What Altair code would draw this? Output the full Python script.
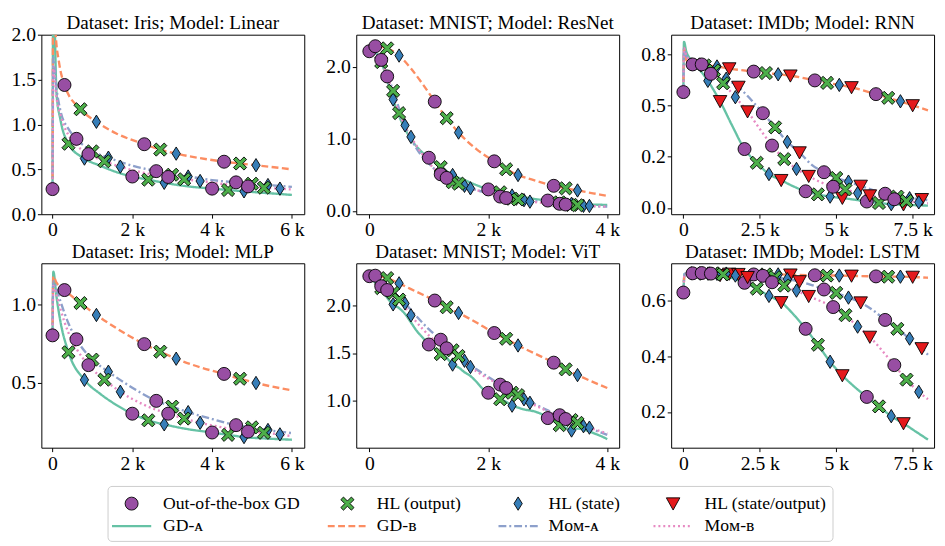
import altair as alt
import pandas as pd

FONT = "Liberation Serif"

# ---------------- series definitions ----------------
METHODS = ["GD-A", "GD-B", "Mom-A", "Mom-B"]
METHOD_LABELS = ["GD-ᴀ", "GD-ʙ", "Mᴏᴍ-ᴀ", "Mᴏᴍ-ʙ"]
LINE_COLORS = ["#66c2a5", "#fc8d62", "#8da0cb", "#e78ac3"]
DASHES = [[1, 0], [7, 3.5], [8, 3, 2, 3], [2, 3]]

MARKERS = ["Out-of-the-box GD", "HL (output)", "HL (state)", "HL (state/output)"]
MARKER_COLORS = ["#984ea3", "#4daf4a", "#377eb8", "#e41a1c"]
X_PATH = "M-1,-0.6L-0.6,-1L0,-0.4L0.6,-1L1,-0.6L0.4,0L1,0.6L0.6,1L0,0.4L-0.6,1L-1,0.6L-0.4,0Z"
DIAMOND_PATH = "M0,-1L0.62,0L0,1L-0.62,0Z"
TRI_PATH = "M-1,-0.85L1,-0.85L0,0.95Z"
SHAPES = ["circle", X_PATH, DIAMOND_PATH, TRI_PATH]
SIZES = [175, 190, 320, 200]

# ---------------- data: (step, loss) ----------------
# Dataset: Iris; Model: Linear
IRIS_LIN_GDA = [(0, 0.28), (20, 2.6), (100, 1.35), (200, 1.05), (400, 0.785), (800, 0.62), (1200, 0.54),
                (1600, 0.47), (2000, 0.42), (2400, 0.385), (2800, 0.35), (3400, 0.31), (4000, 0.285),
                (4400, 0.27), (4800, 0.255), (5400, 0.235), (6000, 0.215)]
IRIS_LIN_GDB = [(0, 0.28), (20, 2.6), (80, 2.0), (160, 1.70), (300, 1.44), (700, 1.17), (1100, 1.03),
                (1600, 0.90), (2300, 0.78), (2700, 0.72), (3100, 0.675), (3700, 0.625), (4300, 0.585),
                (4700, 0.565), (5100, 0.546), (6000, 0.50)]
IRIS_LIN_MOMA = [(0, 0.28), (20, 1.75), (100, 1.40), (200, 1.15), (400, 0.95), (600, 0.84), (1000, 0.70),
                 (1400, 0.63), (2000, 0.54), (2600, 0.48), (3000, 0.44), (3400, 0.42), (4000, 0.38),
                 (4600, 0.355), (5000, 0.34), (5400, 0.325), (6000, 0.305)]
IRIS_LIN_MOMB = [(0, 0.28), (20, 1.65), (100, 1.30), (200, 1.10), (400, 0.88), (600, 0.77), (900, 0.67),
                 (1300, 0.59), (1700, 0.53), (2300, 0.46), (2900, 0.415), (3300, 0.39), (3700, 0.37),
                 (4300, 0.335), (4900, 0.31), (5300, 0.295), (5700, 0.285), (6000, 0.275)]

# Dataset: MNIST; Model: ResNet
MNIST_RES_GDA = [(0, 2.22), (100, 2.20), (200, 2.07), (300, 1.82), (400, 1.55), (500, 1.32), (600, 1.14),
                 (700, 1.00), (800, 0.89), (1000, 0.74), (1200, 0.61), (1400, 0.50), (1600, 0.43),
                 (1800, 0.36), (2000, 0.30), (2200, 0.26), (2400, 0.215), (2600, 0.19), (2800, 0.165),
                 (3000, 0.145), (3200, 0.12), (3400, 0.10), (3700, 0.09), (4000, 0.085)]
MNIST_RES_GDB = [(0, 2.22), (100, 2.29), (300, 2.26), (500, 2.16), (700, 1.98), (900, 1.76), (1100, 1.52),
                 (1300, 1.29), (1500, 1.09), (1800, 0.86), (2100, 0.69), (2300, 0.58), (2500, 0.50),
                 (2800, 0.42), (3100, 0.35), (3300, 0.315), (3500, 0.285), (4000, 0.21)]
MNIST_RES_MOMA = [(0, 2.22), (100, 2.20), (200, 2.10), (400, 1.67), (600, 1.19), (800, 0.86), (1000, 0.66),
                  (1200, 0.51), (1400, 0.40), (1600, 0.35), (1800, 0.29), (2000, 0.25), (2200, 0.20),
                  (2400, 0.17), (2600, 0.15), (3000, 0.12), (3200, 0.10), (3400, 0.085), (3600, 0.072),
                  (4000, 0.06)]
MNIST_RES_MOMB = [(0, 2.22), (100, 2.20), (300, 1.87), (500, 1.36), (700, 1.03), (900, 0.78), (1100, 0.58),
                  (1300, 0.46), (1500, 0.38), (1700, 0.315), (2000, 0.25), (2300, 0.18), (2500, 0.16),
                  (2700, 0.13), (3000, 0.11), (3300, 0.09), (3500, 0.08), (3700, 0.07), (4000, 0.06)]

# Dataset: IMDb; Model: RNN
IMDB_RNN_GDA = [(0, 0.565), (20, 0.81), (100, 0.76), (400, 0.70), (800, 0.62), (1200, 0.52), (1600, 0.40),
                (2000, 0.287), (2400, 0.22), (2800, 0.165), (3200, 0.135), (3600, 0.105), (4000, 0.081),
                (4400, 0.066), (4800, 0.055), (5200, 0.048), (5600, 0.04), (6000, 0.031), (6400, 0.024),
                (6800, 0.018), (7200, 0.016), (7600, 0.013), (8000, 0.011)]
IMDB_RNN_GDB = [(0, 0.565), (20, 0.78), (100, 0.72), (300, 0.70), (700, 0.695), (1100, 0.69), (1500, 0.68),
                (2300, 0.665), (2700, 0.658), (3100, 0.652), (3500, 0.645), (4300, 0.622), (4700, 0.61),
                (5100, 0.60), (5500, 0.588), (6300, 0.555), (6700, 0.537), (7100, 0.52), (7500, 0.50),
                (8000, 0.476)]
IMDB_RNN_MOMA = [(0, 0.565), (20, 0.78), (100, 0.74), (600, 0.70), (1000, 0.67), (1400, 0.63), (1800, 0.59),
                 (2200, 0.53), (2600, 0.462), (3000, 0.393), (3400, 0.322), (3800, 0.27), (4200, 0.21),
                 (4600, 0.174), (5000, 0.146), (5400, 0.128), (5800, 0.107), (6200, 0.087), (6600, 0.069),
                 (7000, 0.055), (7400, 0.047), (7800, 0.042), (8000, 0.038)]
IMDB_RNN_MOMB = [(0, 0.565), (20, 0.78), (100, 0.74), (500, 0.69), (900, 0.654), (1300, 0.608), (1700, 0.54),
                 (2100, 0.47), (2500, 0.385), (2900, 0.304), (3300, 0.238), (3700, 0.19), (4100, 0.155),
                 (4500, 0.125), (4900, 0.103), (5300, 0.09), (5700, 0.072), (6100, 0.06), (6500, 0.05),
                 (6900, 0.042), (7300, 0.033), (7700, 0.027), (8000, 0.022)]

# Dataset: Iris; Model: MLP
IRIS_MLP_GDA = [(0, 0.804), (20, 1.21), (100, 1.05), (200, 0.89), (400, 0.696), (800, 0.52), (1200, 0.43),
                (1600, 0.36), (2000, 0.304), (2400, 0.262), (2800, 0.236), (3400, 0.205), (4000, 0.184),
                (4400, 0.169), (4800, 0.155), (5400, 0.145), (6000, 0.138)]
IRIS_MLP_GDB = [(0, 0.804), (20, 1.18), (100, 1.14), (300, 1.093), (700, 1.01), (1100, 0.934), (1600, 0.85),
                (2300, 0.748), (2700, 0.70), (3100, 0.655), (3700, 0.60), (4300, 0.558), (4700, 0.527),
                (5100, 0.50), (6000, 0.453)]
IRIS_MLP_MOMA = [(0, 0.804), (20, 1.15), (100, 1.10), (200, 1.02), (400, 0.88), (600, 0.779), (1000, 0.649),
                 (1400, 0.572), (2000, 0.47), (2600, 0.386), (3000, 0.349), (3400, 0.314), (4000, 0.27),
                 (4600, 0.231), (5000, 0.217), (5400, 0.20), (6000, 0.18)]
IRIS_MLP_MOMB = [(0, 0.804), (20, 1.12), (100, 1.06), (200, 0.97), (400, 0.82), (600, 0.72), (900, 0.614),
                 (1300, 0.521), (1700, 0.444), (2300, 0.36), (2900, 0.304), (3300, 0.273), (3700, 0.246),
                 (4300, 0.215), (4900, 0.19), (5300, 0.182), (5700, 0.172), (6000, 0.16)]

# Dataset: MNIST; Model: ViT
MNIST_VIT_GDA = [(0, 2.305), (100, 2.24), (200, 2.18), (300, 2.08), (400, 2.01), (500, 1.97), (600, 1.91),
                 (700, 1.82), (800, 1.73), (900, 1.66), (1000, 1.59), (1100, 1.545), (1200, 1.49),
                 (1300, 1.45), (1400, 1.38), (1500, 1.35), (1600, 1.30), (1700, 1.26), (1800, 1.20),
                 (1900, 1.13), (2000, 1.085), (2100, 1.06), (2200, 1.017), (2300, 0.99), (2400, 0.95),
                 (2500, 0.93), (2600, 0.91), (2700, 0.90), (2800, 0.885), (2900, 0.86), (3000, 0.82),
                 (3100, 0.79), (3200, 0.746), (3300, 0.72), (3400, 0.69), (3500, 0.71), (3600, 0.70),
                 (3700, 0.68), (3800, 0.655), (3900, 0.63), (4000, 0.60)]
MNIST_VIT_GDB = [(0, 2.305), (100, 2.31), (300, 2.285), (500, 2.23), (700, 2.17), (900, 2.11), (1100, 2.05),
                 (1300, 1.98), (1500, 1.92), (1800, 1.82), (2100, 1.71), (2300, 1.65), (2500, 1.58),
                 (2800, 1.49), (3100, 1.40), (3300, 1.33), (3500, 1.27), (4000, 1.135)]
MNIST_VIT_MOMA = [(0, 2.305), (100, 2.27), (200, 2.20), (400, 2.13), (600, 2.02), (800, 1.88), (1000, 1.75),
                  (1200, 1.64), (1400, 1.53), (1600, 1.42), (1800, 1.33), (2000, 1.25), (2200, 1.17),
                  (2400, 1.085), (2600, 1.017), (2800, 0.96), (3000, 0.90), (3200, 0.85), (3400, 0.80),
                  (3600, 0.735), (3800, 0.69), (4000, 0.645)]
MNIST_VIT_MOMB = [(0, 2.305), (100, 2.27), (300, 2.16), (500, 2.06), (700, 1.895), (900, 1.75), (1100, 1.63),
                  (1300, 1.55), (1500, 1.47), (1700, 1.355), (1900, 1.27), (2100, 1.20), (2300, 1.135),
                  (2500, 1.06), (2700, 0.98), (2900, 0.92), (3100, 0.86), (3300, 0.81), (3500, 0.77),
                  (3700, 0.72), (4000, 0.66)]

# Dataset: IMDb; Model: LSTM
IMDB_LSTM_GDA = [(0, 0.628), (40, 0.695), (400, 0.697), (800, 0.696), (1200, 0.69), (1600, 0.68),
                 (2000, 0.663), (2400, 0.642), (2800, 0.616), (3200, 0.593), (3600, 0.55), (4000, 0.498),
                 (4400, 0.441), (4800, 0.38), (5200, 0.331), (5600, 0.29), (6000, 0.254), (6400, 0.22),
                 (6800, 0.185), (7200, 0.159), (7600, 0.13), (8000, 0.101)]
IMDB_LSTM_GDB = [(0, 0.628), (40, 0.695), (300, 0.697), (700, 0.696), (1100, 0.695), (1500, 0.695),
                 (2300, 0.693), (2700, 0.693), (3100, 0.693), (3500, 0.692), (4300, 0.69), (4700, 0.689),
                 (5100, 0.689), (5500, 0.688), (6300, 0.686), (6700, 0.685), (7100, 0.685), (7500, 0.684),
                 (8000, 0.681)]
IMDB_LSTM_MOMA = [(0, 0.628), (40, 0.695), (200, 0.698), (600, 0.698), (1000, 0.697), (1400, 0.696),
                  (1800, 0.694), (2600, 0.688), (3000, 0.683), (3400, 0.676), (3800, 0.668), (4200, 0.655),
                  (4600, 0.639), (5000, 0.627), (5400, 0.61), (5800, 0.592), (6200, 0.565), (6600, 0.53),
                  (7000, 0.498), (7400, 0.463), (7800, 0.428), (8000, 0.405)]
IMDB_LSTM_MOMB = [(0, 0.628), (40, 0.695), (500, 0.697), (900, 0.696), (1300, 0.693), (1700, 0.689),
                  (2100, 0.683), (2500, 0.675), (2900, 0.665), (3300, 0.653), (3700, 0.635), (4100, 0.615),
                  (4500, 0.597), (4900, 0.576), (5300, 0.547), (5700, 0.506), (6100, 0.469), (6500, 0.42),
                  (6900, 0.368), (7300, 0.316), (7700, 0.272), (8000, 0.246)]

# axis ticks
X_TICKS_6K = [0, 2000, 4000, 6000]
X_TICKS_4K = [0, 2000, 4000]
X_TICKS_8K = [0, 2500, 5000, 7500]

W = 268
H_TOP, H_BOTTOM = 183, 188
XLABEL = "datum.value == 0 ? '0' : format(datum.value / 1000, '~g') + ' k'"

shape_scale = alt.Scale(domain=MARKERS, range=SHAPES)
fill_scale = alt.Scale(domain=MARKERS, range=MARKER_COLORS)
size_scale = alt.Scale(domain=MARKERS, range=SIZES)
color_scale = alt.Scale(domain=METHODS, range=LINE_COLORS)
dash_scale = alt.Scale(domain=METHODS, range=DASHES)


def panel(title, curves, xdom, xticks, ydom, yticks, period, step, offsets, ntypes, height,
          ylabel_expr=None, title_offset=1):
    line_rows, pt_rows = [], []
    for mi, (method, pts) in enumerate(zip(METHODS, curves)):
        xmax = max(p[0] for p in pts)
        for i, (x, y) in enumerate(pts):
            line_rows.append({"method": method, "x": x, "y": y, "i": i})
            rel = x - offsets[mi]
            if rel >= 0 and x < xmax and (rel % period) % step == 0:
                k = (rel % period) // step
                if k < ntypes:
                    pt_rows.append({"method": method, "x": x, "y": y, "marker": MARKERS[k]})
    ldf = pd.DataFrame(line_rows)
    pdf = pd.DataFrame(pt_rows)

    xenc = alt.X("x:Q", scale=alt.Scale(domain=xdom, nice=False, zero=False),
                 axis=alt.Axis(values=xticks, labelExpr=XLABEL, title=None))
    yaxis = alt.Axis(values=yticks, format=".1f", title=None)
    if ylabel_expr:
        yaxis = alt.Axis(values=yticks, labelExpr=ylabel_expr, title=None)
    yenc = alt.Y("y:Q", scale=alt.Scale(domain=ydom, nice=False, zero=False), axis=yaxis)

    lines = alt.Chart(ldf).mark_line(strokeWidth=2.4, clip=True, interpolate="monotone").encode(
        x=xenc, y=yenc,
        color=alt.Color("method:N", scale=color_scale, legend=None),
        strokeDash=alt.StrokeDash("method:N", scale=dash_scale, legend=None),
        order="i:Q",
    )
    points = alt.Chart(pdf).mark_point(filled=True, opacity=1, stroke="black", strokeWidth=0.9,
                                       clip=True).encode(
        x="x:Q", y="y:Q",
        shape=alt.Shape("marker:N", scale=shape_scale, legend=None),
        fill=alt.Fill("marker:N", scale=fill_scale, legend=None),
        size=alt.Size("marker:N", scale=size_scale, legend=None),
    )
    ttl = alt.TitleParams(text=title, font=FONT, fontSize=19.5, fontWeight="normal", color="black",
                          offset=title_offset, anchor="middle")
    return alt.layer(lines, points).properties(width=W, height=height, title=ttl)


p1 = panel("Dataset: Iris; Model: Linear", [IRIS_LIN_GDA, IRIS_LIN_GDB, IRIS_LIN_MOMA, IRIS_LIN_MOMB],
           [-280, 6310], X_TICKS_6K, [0, 2.0], [0, 0.5, 1.0, 1.5, 2.0], 2000, 400, [0, 300, 600, 900], 3,
           H_TOP, title_offset=-9)
p2 = panel("Dataset: MNIST; Model: ResNet", [MNIST_RES_GDA, MNIST_RES_GDB, MNIST_RES_MOMA, MNIST_RES_MOMB],
           [-220, 4200], X_TICKS_4K, [-0.045, 2.45], [0, 1.0, 2.0], 1000, 200, [0, 100, 200, 300], 3,
           H_TOP)
p3 = panel("Dataset: IMDb; Model: RNN", [IMDB_RNN_GDA, IMDB_RNN_GDB, IMDB_RNN_MOMA, IMDB_RNN_MOMB],
           [-400, 8200], X_TICKS_8K, [-0.031, 0.845], [0, 0.25, 0.5, 0.75], 2000, 400, [0, 300, 600, 900], 4,
           H_TOP, ylabel_expr="datum.value == 0.25 ? '0.2' : format(datum.value, '.1f')")
p4 = panel("Dataset: Iris; Model: MLP", [IRIS_MLP_GDA, IRIS_MLP_GDB, IRIS_MLP_MOMA, IRIS_MLP_MOMB],
           [-280, 6310], X_TICKS_6K, [0.087, 1.264], [0.5, 1.0], 2000, 400, [0, 300, 600, 900], 3,
           H_BOTTOM)
p5 = panel("Dataset: MNIST; Model: ViT", [MNIST_VIT_GDA, MNIST_VIT_GDB, MNIST_VIT_MOMA, MNIST_VIT_MOMB],
           [-220, 4200], X_TICKS_4K, [0.51, 2.44], [1.0, 1.5, 2.0], 1000, 200, [0, 100, 200, 300], 3,
           H_BOTTOM)
p6 = panel("Dataset: IMDb; Model: LSTM", [IMDB_LSTM_GDA, IMDB_LSTM_GDB, IMDB_LSTM_MOMA, IMDB_LSTM_MOMB],
           [-400, 8200], X_TICKS_8K, [0.072, 0.733], [0.2, 0.4, 0.6], 2000, 400, [0, 300, 600, 900], 4,
           H_BOTTOM)

row1 = alt.hconcat(p1, p2, p3, spacing=20).resolve_scale(x="independent", y="independent")
row2 = alt.hconcat(p4, p5, p6, spacing=20).resolve_scale(x="independent", y="independent")
grid = alt.vconcat(row1, row2, spacing=1).resolve_scale(x="independent", y="independent")

# ---------------- legend (layout in legend-local pixels, origin at first plot's left edge) ----------------
LEG_W, LEG_H = 807, 57
LEG_BOX = [68, 807]
LEG_SYM_X = [92, 312, 486, 644]
LEG_TXT_X = [124, 342, 517, 676]
LEG_ROW_Y = [18, 41]
LEG_HALF = 20

lx = alt.Scale(domain=[0, LEG_W], nice=False, zero=False)
ly = alt.Scale(domain=[LEG_H, 0], nice=False, zero=False)

leg_box = pd.DataFrame({"x0": [LEG_BOX[0]], "x1": [LEG_BOX[1]], "y0": [0.5], "y1": [LEG_H - 0.5]})
leg_pts = pd.DataFrame({"marker": MARKERS, "lx": LEG_SYM_X, "ly": [LEG_ROW_Y[0]] * 4})
leg_lines = pd.DataFrame([
    {"method": m, "lx": sx + d, "ly": LEG_ROW_Y[1]}
    for m, sx in zip(METHODS, LEG_SYM_X) for d in (-LEG_HALF, LEG_HALF)
])
leg_text = pd.DataFrame({
    "label": MARKERS + METHOD_LABELS,
    "lx": LEG_TXT_X + LEG_TXT_X,
    "ly": [LEG_ROW_Y[0]] * 4 + [LEG_ROW_Y[1]] * 4,
})

lg_box = alt.Chart(leg_box).mark_rect(fill="white", stroke="#cccccc", strokeWidth=1, cornerRadius=4).encode(
    x=alt.X("x0:Q", scale=lx, axis=None), x2="x1:Q",
    y=alt.Y("y0:Q", scale=ly, axis=None), y2="y1:Q",
)
lg_p = alt.Chart(leg_pts).mark_point(filled=True, opacity=1, stroke="black", strokeWidth=0.9).encode(
    x=alt.X("lx:Q", scale=lx, axis=None), y=alt.Y("ly:Q", scale=ly, axis=None),
    shape=alt.Shape("marker:N", scale=shape_scale, legend=None),
    fill=alt.Fill("marker:N", scale=fill_scale, legend=None),
    size=alt.Size("marker:N", scale=size_scale, legend=None),
)
lg_l = alt.Chart(leg_lines).mark_line(strokeWidth=2.4).encode(
    x=alt.X("lx:Q", scale=lx, axis=None), y=alt.Y("ly:Q", scale=ly, axis=None),
    color=alt.Color("method:N", scale=color_scale, legend=None),
    strokeDash=alt.StrokeDash("method:N", scale=dash_scale, legend=None),
    detail="method:N",
)
lg_t = alt.Chart(leg_text).mark_text(align="left", baseline="middle", font=FONT, fontSize=18,
                                      color="black").encode(
    x=alt.X("lx:Q", scale=lx, axis=None), y=alt.Y("ly:Q", scale=ly, axis=None),
    text="label:N",
)
legend = alt.layer(lg_box, lg_l, lg_p, lg_t).properties(
    width=LEG_W, height=LEG_H,
    view=alt.ViewBackground(stroke=None),
)

chart = (
    alt.vconcat(grid, legend, spacing=12)
    .resolve_scale(x="independent", y="independent")
    .properties(padding={"left": 2, "top": 0, "right": 2, "bottom": 0})
    .configure_view(stroke="black", strokeWidth=1)
    .configure_axis(grid=False, domain=False, ticks=True, tickColor="black", tickSize=4, tickWidth=1,
                    labelFont=FONT, labelFontSize=20, labelColor="black", labelPadding=2,
                    labelFlush=False, labelOverlap=False)
    .configure_title(font=FONT, fontSize=19.5, fontWeight="normal", color="black")
)

chart.save("out.html", embed_options={"renderer": "svg", "actions": False})
